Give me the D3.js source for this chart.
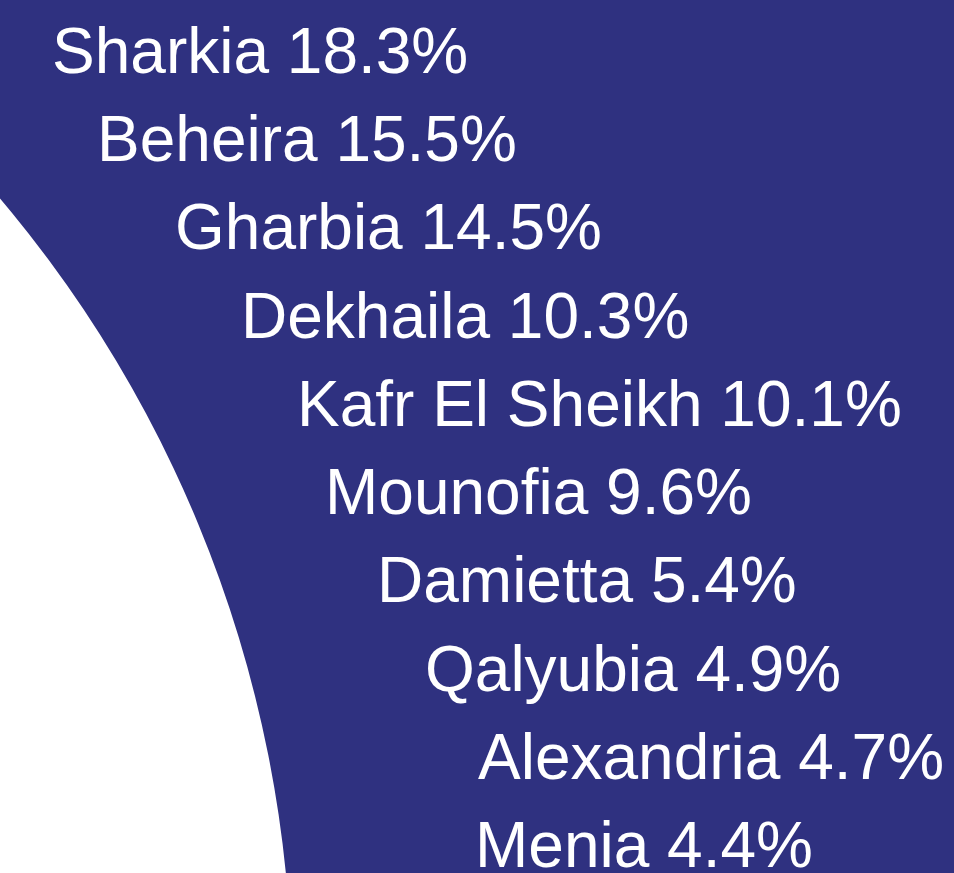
<!DOCTYPE html>
<html lang="en">
<head>
    <meta charset="UTF-8">
    <title>Governorates</title>
</head>
<style>
    body {
        margin: 0;
        background: #fff;
    }
    .band {
        fill: #2f3180;
    }
    .label {
        fill: #fff;
        font-family: "Liberation Sans", Arial, sans-serif;
        font-size: 64px;
    }
</style>
<body>
<svg width="954" height="873"></svg>
<script src="https://cdnjs.cloudflare.com/ajax/libs/d3/7.8.5/d3.min.js"></script>
<script>
    // data
    var governorates = ["Sharkia", "Beheira", "Gharbia", "Dekhaila", "Kafr El Sheikh",
        "Mounofia", "Damietta", "Qalyubia", "Alexandria", "Menia"];
    var shares = [18.3, 15.5, 14.5, 10.3, 10.1, 9.6, 5.4, 4.9, 4.7, 4.4];

    // layout: left edge of each label (they step along the curve)
    var labelX = [52, 97, 175, 241, 297, 325, 377, 425, 478, 475];

    var svg = d3.select("svg"),
        width = +svg.attr("width"),
        height = +svg.attr("height");

    // big ring whose inner edge is the white curve on the left
    var centre = [-943, 996],
        innerR = 1235;
    var arc = d3.arc()
        .innerRadius(innerR)
        .outerRadius(3000)
        .startAngle(0)
        .endAngle(Math.PI);
    svg.append("path")
        .attr("class", "band")
        .attr("transform", "translate(" + centre[0] + "," + centre[1] + ")")
        .attr("d", arc());

    // one row per governorate
    var y = d3.scalePoint()
        .domain(governorates)
        .range([73, 867]);

    var rows = governorates.map(function (g, i) {
        return {name: g, value: shares[i], x: labelX[i]};
    });

    svg.selectAll("text.label")
        .data(rows)
        .enter().append("text")
        .attr("class", "label")
        .attr("x", function (d) { return d.x; })
        .attr("y", function (d) { return y(d.name); })
        .text(function (d) { return d.name + " " + d3.format(".1f")(d.value) + "%"; });
</script>
</body>
</html>
